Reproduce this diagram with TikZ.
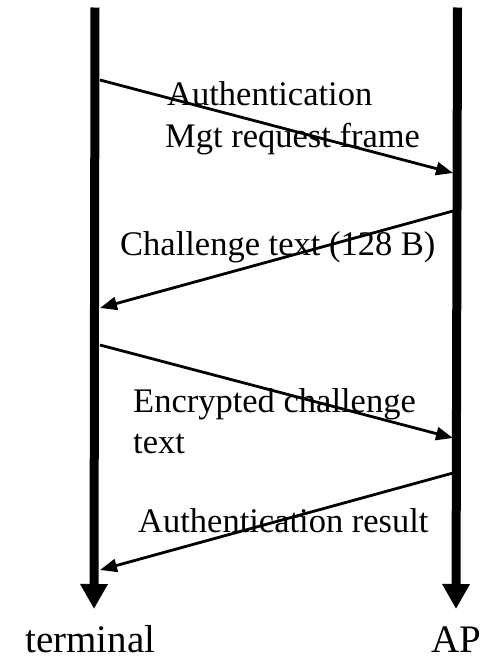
\documentclass[tikz,border=0pt]{standalone}
\usepackage{fontspec}
\setmainfont{Liberation Serif}
\usetikzlibrary{arrows.meta}

\tikzset{
  lifeline/.style={line width=9pt, -{Triangle[width=26pt,length=25pt]}},
  msg/.style={line width=2.8pt, -{Triangle[width=13pt,length=17pt]}},
  msglabel/.style={anchor=base west, inner sep=0pt, font=\fontsize{34.5pt}{41.4pt}\selectfont},
  endlabel/.style={anchor=base west, inner sep=0pt, font=\fontsize{39pt}{47pt}\selectfont}
}

\begin{document}
\begin{tikzpicture}[x=1pt,y=-1pt]
  \useasboundingbox (0,0) rectangle (482,659);

  % lifelines of the two stations
  \coordinate (tTop) at (95,7.5);
  \coordinate (tEnd) at (94,609);
  \coordinate (aTop) at (457.5,7.5);
  \coordinate (aEnd) at (456,609);
  \draw[lifeline] (tTop) -- (tEnd);
  \draw[lifeline] (aTop) -- (aEnd);

  % message end points on the lifelines
  \coordinate (m1s) at (100,80);
  \coordinate (m1e) at (453,173);
  \coordinate (m2s) at (453,211);
  \coordinate (m2e) at (100,308);
  \coordinate (m3s) at (100,345);
  \coordinate (m3e) at (453,438);
  \coordinate (m4s) at (453,473);
  \coordinate (m4e) at (100,570);

  \draw[msg] (m1s) -- (m1e);
  \draw[msg] (m2s) -- (m2e);
  \draw[msg] (m3s) -- (m3e);
  \draw[msg] (m4s) -- (m4e);

  % message labels
  \node[msglabel] (l1a) at (167,105) {Authentication};
  \node[msglabel] (l1b) at (165,147) {Mgt request frame};
  \node[msglabel] (l2)  at (120,255) {Challenge text (128 B)};
  \node[msglabel] (l3a) at (133,412) {Encrypted challenge};
  \node[msglabel] (l3b) at (133,453) {text};
  \node[msglabel] (l4)  at (138,532) {Authentication result};

  % station names
  \node[endlabel] (term) at (25,652) {terminal};
  \node[endlabel] (ap)   at (431,652) {AP};
\end{tikzpicture}
\end{document}
